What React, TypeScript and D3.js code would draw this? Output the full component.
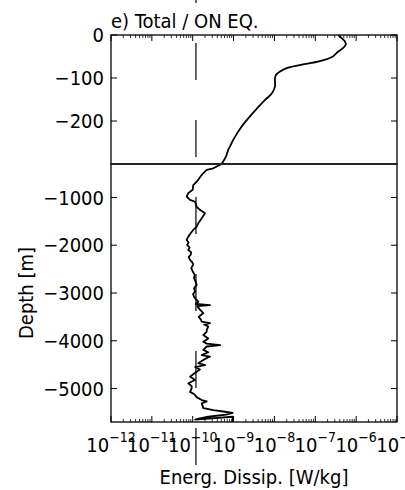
import React from "react";
import * as d3 from "d3";

// ---------- data ----------
const upperDepth = [0, -7, -15, -22, -30, -42, -50, -61, -70, -77, -85, -93, -101, -120, -136, -151, -181, -213, -244, -260, -267, -283, -300];
const upperDissip = [3.6e-7, 4.4e-7, 5.3e-7, 5.6e-7, 4.8e-7, 3.3e-7, 2.7e-7, 1.3e-7, 4.2e-8, 2.0e-8, 1.37e-8, 1.09e-8, 1.03e-8, 1.03e-8, 8.6e-9, 5.9e-9, 3.0e-9, 1.58e-9, 9.8e-10, 8.1e-10, 7.4e-10, 6.5e-10, 5.1e-10];

const lowerDepth = [-300, -390, -425, -530, -670, -740, -840, -910, -980, -1050, -1090, -1195, -1260, -1330, -1435, -1540, -1610, -1680, -1750, -1820, -1890, -1940, -1995, -2050, -2100, -2150, -2200, -2250, -2305, -2360, -2410, -2480, -2550, -2620, -2690, -2760, -2830, -2900, -2970, -3020, -3075, -3130, -3180, -3230, -3255, -3275, -3350, -3420, -3500, -3560, -3600, -3630, -3660, -3700, -3775, -3810, -3880, -3950, -4020, -4060, -4090, -4120, -4190, -4240, -4300, -4330, -4400, -4470, -4510, -4550, -4600, -4650, -4700, -4750, -4820, -4890, -4950, -5000, -5070, -5120, -5180, -5240, -5270, -5310, -5410, -5450, -5480, -5510, -5545, -5590, -5625, -5650, -5590, -5700];
const lowerDissip = [5.1e-10, 3.2e-10, 2.2e-10, 1.66e-10, 1.25e-10, 1.03e-10, 1.0e-10, 7.8e-11, 7.1e-11, 8.6e-11, 1.14e-10, 1.25e-10, 1.5e-10, 2.0e-10, 1.66e-10, 1.37e-10, 1.25e-10, 1.03e-10, 8.9e-11, 7.8e-11, 7.1e-11, 7.9e-11, 7.3e-11, 8.4e-11, 7.8e-11, 9.2e-11, 8.9e-11, 8.0e-11, 8.6e-11, 9.8e-11, 1.03e-10, 9.2e-11, 1.0e-10, 1.12e-10, 1.07e-10, 1.18e-10, 1.25e-10, 1.08e-10, 1.14e-10, 1.02e-10, 1.07e-10, 1.2e-10, 1.37e-10, 1.2e-10, 2.65e-10, 1.3e-10, 1.5e-10, 1.82e-10, 1.4e-10, 1.6e-10, 1.66e-10, 2.65e-10, 1.9e-10, 2.4e-10, 2.2e-10, 2.2e-10, 1.82e-10, 2.4e-10, 1.82e-10, 2.2e-10, 4.7e-10, 2.2e-10, 1.82e-10, 2.4e-10, 1.66e-10, 2.65e-10, 1.82e-10, 1.37e-10, 2.0e-10, 1.14e-10, 1.5e-10, 1.25e-10, 1.03e-10, 8.6e-11, 1.14e-10, 7.8e-11, 9.4e-11, 9.4e-11, 8.6e-11, 1.1e-10, 1.25e-10, 1.66e-10, 2.2e-10, 1.66e-10, 1.82e-10, 3.2e-10, 5.6e-10, 9.5e-10, 6.5e-10, 2.4e-10, 1.5e-10, 1.15e-10, 9.5e-10, 9.5e-10];

const refLevel = 1.2e-10;
const upperTicks = [0, -100, -200];
const lowerTicks = [-1000, -2000, -3000, -4000, -5000];
const xExponents = [-12, -11, -10, -9, -8, -7, -6, -5];

const titleText = "e) Total / ON EQ.";
const xLabel = "Energ. Dissip. [W/kg]";
const yLabel = "Depth [m]";

// ---------- layout ----------
const W = 405, H = 490;
const L = 111, R = 397, T = 35, MID = 164, B = 422;
const FONT = "'DejaVu Sans Condensed', 'DejaVu Sans', sans-serif";
const FS = 20;

export default function App() {
  const x = d3.scaleLog().domain([1e-12, 1e-5]).range([L, R]);
  const yTop = d3.scaleLinear().domain([0, -300]).range([T, MID]);
  const yBot = d3.scaleLinear().domain([-300, -5700]).range([MID, B]);

  const upperPts = upperDepth.map((d, i) => [x(upperDissip[i]), yTop(d)] as [number, number]);
  const lowerPts = lowerDepth.map((d, i) => [x(lowerDissip[i]), yBot(d)] as [number, number]);

  const smooth = d3.line().curve(d3.curveCatmullRom.alpha(0.5));
  const lin = d3.line().curve(d3.curveLinear);

  const majors: number[] = xExponents.map((e) => Math.pow(10, e));
  const minors: number[] = [];
  xExponents.slice(0, -1).forEach((e) => {
    for (let k = 2; k <= 9; k++) minors.push(k * Math.pow(10, e));
  });

  const xr = x(refLevel);

  return (
    <div style={{ position: "absolute", left: 0, top: 0 }}>
      <svg width={W} height={H} style={{ display: "block", background: "#fff" }} fontFamily={FONT}>
        <defs>
          <clipPath id="clipTop"><rect x={L} y={T} width={R - L} height={MID - T} /></clipPath>
          <clipPath id="clipBot"><rect x={L} y={MID} width={R - L} height={B - MID} /></clipPath>
        </defs>
        <rect x={0} y={0} width={W} height={H} fill="#fff" />

        {/* reference dashed line */}
        <line x1={xr} x2={xr} y1={-34} y2={465} stroke="#000" strokeWidth={1.2} strokeDasharray="37 40" />

        {/* data */}
        <path d={smooth(upperPts) || ""} fill="none" stroke="#000" strokeWidth={1.8} clipPath="url(#clipTop)" />
        <path d={lin(lowerPts) || ""} fill="none" stroke="#000" strokeWidth={1.8} strokeLinejoin="round" clipPath="url(#clipBot)" />

        {/* frames */}
        <rect x={L} y={T} width={R - L} height={MID - T} fill="none" stroke="#000" strokeWidth={1.3} />
        <rect x={L} y={MID} width={R - L} height={B - MID} fill="none" stroke="#000" strokeWidth={1.3} />
        <line x1={L} x2={R} y1={MID} y2={MID} stroke="#222" strokeWidth={2} />

        {/* x ticks top & bottom */}
        {majors.map((v, i) => (
          <g key={"M" + i}>
            <line x1={x(v)} x2={x(v)} y1={T} y2={T + 6} stroke="#000" strokeWidth={1} />
            <line x1={x(v)} x2={x(v)} y1={B} y2={B - 6} stroke="#000" strokeWidth={1} />
          </g>
        ))}
        {minors.map((v, i) => (
          <g key={"m" + i}>
            <line x1={x(v)} x2={x(v)} y1={T} y2={T + 3} stroke="#000" strokeWidth={0.8} />
            <line x1={x(v)} x2={x(v)} y1={B} y2={B - 3} stroke="#000" strokeWidth={0.8} />
          </g>
        ))}

        {/* x tick labels */}
        {xExponents.map((e, i) => (
          <text key={"xl" + i} x={x(Math.pow(10, e))} y={452} textAnchor="middle" fontSize={FS} fill="#000">
            10<tspan fontSize={14} dy={-10.5}>{"\u2212" + Math.abs(e)}</tspan>
          </text>
        ))}

        {/* y ticks and labels */}
        {upperTicks.map((t, i) => (
          <g key={"yu" + i}>
            <line x1={L} x2={L + 6} y1={yTop(t)} y2={yTop(t)} stroke="#000" strokeWidth={1} />
            <line x1={R} x2={R - 6} y1={yTop(t)} y2={yTop(t)} stroke="#000" strokeWidth={1} />
            <text x={L - 7} y={yTop(t)} dy="0.36em" textAnchor="end" fontSize={FS} fill="#000">
              {t === 0 ? "0" : "\u2212" + Math.abs(t)}
            </text>
          </g>
        ))}
        {lowerTicks.map((t, i) => (
          <g key={"yl" + i}>
            <line x1={L} x2={L + 6} y1={yBot(t)} y2={yBot(t)} stroke="#000" strokeWidth={1} />
            <line x1={R} x2={R - 6} y1={yBot(t)} y2={yBot(t)} stroke="#000" strokeWidth={1} />
            <text x={L - 7} y={yBot(t)} dy="0.36em" textAnchor="end" fontSize={FS} fill="#000">
              {"\u2212" + Math.abs(t)}
            </text>
          </g>
        ))}

        {/* title & labels */}
        <text x={L} y={28} fontSize={FS} fill="#000">{titleText}</text>
        <text x={(L + R) / 2} y={484} textAnchor="middle" fontSize={FS} fill="#000">{xLabel}</text>
        <text transform={`translate(33,${(MID + B) / 2}) rotate(-90)`} textAnchor="middle" fontSize={FS} fill="#000">{yLabel}</text>
      </svg>
    </div>
  );
}
